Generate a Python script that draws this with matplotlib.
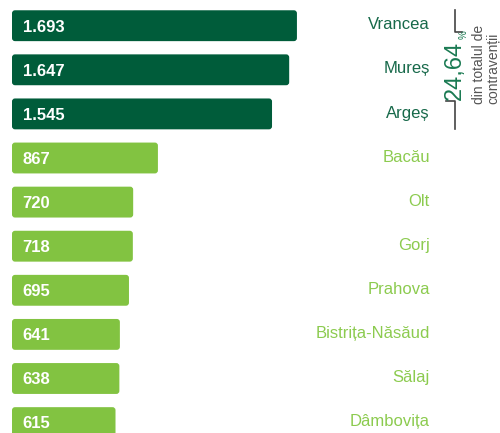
import matplotlib
matplotlib.use("Agg")
import matplotlib.pyplot as plt
from matplotlib.patches import FancyBboxPatch
from matplotlib.lines import Line2D

plt.rcParams['font.family'] = ['Liberation Sans', 'DejaVu Sans']

# data
judete = ['Vrancea', 'Mureș', 'Argeș', 'Bacău', 'Olt', 'Gorj', 'Prahova',
          'Bistrița-Năsăud', 'Sălaj', 'Dâmbovița']
valori = [1693, 1647, 1545, 867, 720, 718, 695, 641, 638, 615]
etichete = ['1.693', '1.647', '1.545', '867', '720', '718', '695', '641', '638', '615']
top_n = 3

verde_inchis = '#005c3a'
verde_deschis = '#82c341'
text_inchis = '#17694a'
text_deschis = '#8ccb4f'

W, H = 500, 433
fig = plt.figure(figsize=(W / 100, H / 100), dpi=100)
ax = fig.add_axes([0, 0, 1, 1])
ax.axis('off')

# scale: pixels per unit on x, pixels per category on y
px_x = 0.1683
px_y = 44.1
x0_px = 12
y0_px = 25.7
ax.set_xlim(-x0_px / px_x, (W - x0_px) / px_x)
ax.set_ylim((H - y0_px) / px_y, -y0_px / px_y)

pos = list(range(len(judete)))
culori = [verde_inchis if i < top_n else verde_deschis for i in pos]
bars = ax.barh(pos, valori, height=0.70, color=culori)

# swap square bars for slightly rounded ones
for b in bars:
    x, y = b.get_x(), b.get_y()
    w, h = b.get_width(), b.get_height()
    p = FancyBboxPatch((x, y), w, h,
                       boxstyle="round,pad=0,rounding_size=%f" % (3 / px_x),
                       mutation_aspect=px_x / px_y,
                       facecolor=b.get_facecolor(), edgecolor='none')
    b.set_visible(False)
    ax.add_patch(p)

for i in pos:
    ax.text(10.5 / px_x, i + 0.03, etichete[i], color='white', fontsize=12,
            fontweight='bold', ha='left', va='center')
    ax.text((430 - x0_px) / px_x, i - 0.02, judete[i], fontsize=12,
            color=text_inchis if i < top_n else text_deschis,
            ha='right', va='center')

# bracket for the first three counties
def fx(px):
    return px / W

def fy(py):
    return 1 - py / H

lw = 1.2
fig.add_artist(Line2D([fx(455), fx(455), fx(462)], [fy(10), fy(32), fy(32)],
                      color='#444444', lw=lw))
fig.add_artist(Line2D([fx(446), fx(455), fx(455)], [fy(101), fy(101), fy(129)],
                      color='#444444', lw=lw))
fig.text(fx(455), fy(100), '24,64', rotation=90, fontsize=17, color='#1a7a52',
         ha='center', va='bottom')
fig.text(fx(464), fy(39), '%', rotation=90, fontsize=7, color='#1a7a52',
         ha='center', va='bottom')
fig.text(fx(479), fy(104), 'din totalul de', rotation=90, fontsize=10,
         color='#555555', ha='center', va='bottom')
fig.text(fx(493), fy(104), 'contravenții', rotation=90, fontsize=10,
         color='#555555', ha='center', va='bottom')

fig.savefig('out.png', dpi=100)
